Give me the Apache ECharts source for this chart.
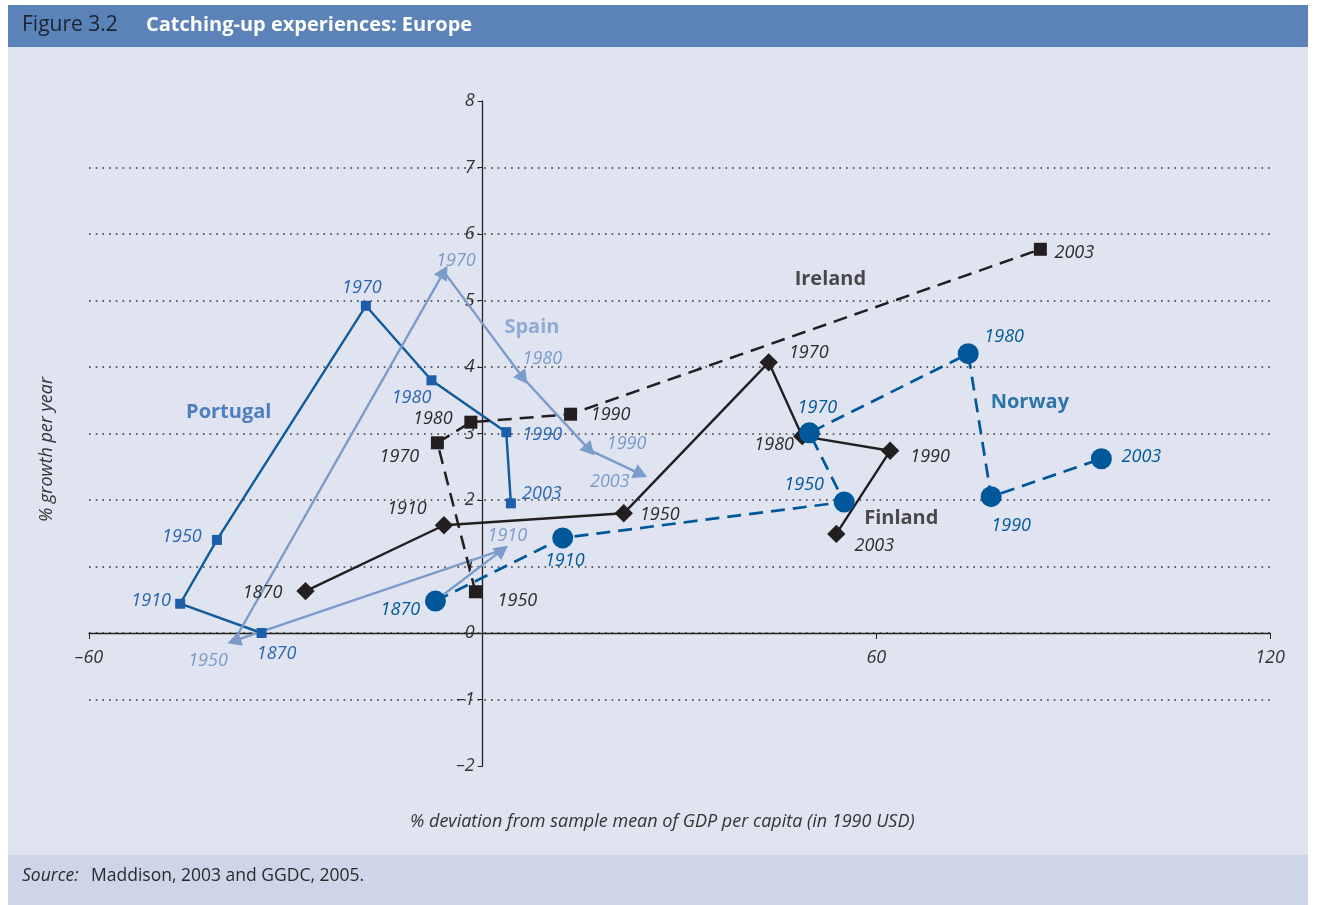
<!DOCTYPE html>
<html>
<head>
<meta charset="utf-8">
<script src="https://cdn.jsdelivr.net/npm/echarts@6/dist/echarts.min.js"></script>
<style>
  html, body { margin: 0; padding: 0; background: #fff; }
  #chart { width: 1322px; height: 905px; }
</style>
</head>
<body>
<div id="chart"></div>
<script>
// data
var years = ["1870", "1910", "1950", "1970", "1980", "1990", "2003"];
var irelandYears = ["1950", "1970", "1980", "1990", "2003"];

var portugalX = [-33.7, -46.1, -40.5, -17.8, -7.8, 3.6, 4.3];
var portugalY = [0.0, 0.44, 1.40, 4.92, 3.80, 3.02, 1.95];

var spainX = [-7.0, 3.0, -37.9, -5.9, 6.2, 16.3, 24.1];
var spainY = [0.50, 1.25, -0.12, 5.43, 3.83, 2.75, 2.39];

var irelandX = [-1.1, -6.9, -1.8, 13.4, 85.0];
var irelandY = [0.62, 2.86, 3.17, 3.29, 5.77];

var finlandX = [-27.0, -5.9, 21.5, 43.6, 48.7, 62.1, 53.9];
var finlandY = [0.63, 1.62, 1.80, 4.07, 2.96, 2.74, 1.49];

var norwayX = [-7.2, 12.2, 55.1, 49.8, 74.0, 77.5, 94.3];
var norwayY = [0.48, 1.43, 1.97, 3.01, 4.20, 2.05, 2.62];

var countries = ["Portugal", "Spain", "Ireland", "Finland", "Norway"];
var countryX = [-38.7, 7.5, 53.0, 63.8, 83.4];
var countryY = [3.32, 4.6, 5.32, 1.73, 3.47];

// label offsets (pixels) for the year labels
var portugalOff = [[15, 21], [-29, -3], [-35, -3], [-4, -18], [-20, 18], [36, 3], [31, -9]];
var spainOff = [null, [5, -14], [-26, 20], [12, -11], [19, -19], [37, -6], [-31, 8]];
var irelandOff = [[42, 9], [-38, 14], [-38, -3], [40, 1], [34, 4]];
var finlandOff = [[-43, 2], [-37, -16], [36, 2], [40, -9], [-28, 9], [40, 6], [38, 12]];
var norwayOff = [[-35, 9], [2, 23], [-40, -17], [8, -25], [36, -17], [20, 29], [40, -2]];

var FONT = "Open Sans";
var DARK = "#231f20";
var PT = "#0f5b9c", PT_MK = "#1c5eaa", PT_TX = "#2a64b2";
var SP = "#7b9ccb";
var NO = "#00589a";

function pts(xs, ys, yrs, offs) {
  return xs.map(function (x, i) {
    var item = { value: [x, ys[i]], name: yrs[i] };
    if (offs[i]) {
      item.label = { show: true, offset: offs[i] };
    } else {
      item.label = { show: false };
    }
    return item;
  });
}

function yearLabel(color) {
  return {
    show: true,
    position: "inside",
    formatter: "{b}",
    color: color,
    fontFamily: FONT,
    fontStyle: "italic",
    fontSize: 18
  };
}

var chart = echarts.init(document.getElementById("chart"));

var option = {
  animation: false,
  backgroundColor: "#fff",
  textStyle: { fontFamily: FONT },
  graphic: [
    { type: "rect", z: -10, shape: { x: 8, y: 5, width: 1300, height: 42 }, style: { fill: "#5b83b7" } },
    { type: "rect", z: -10, shape: { x: 8, y: 47, width: 1300, height: 808 }, style: { fill: "#dfe4f0" } },
    { type: "rect", z: -10, shape: { x: 8, y: 855, width: 1300, height: 50 }, style: { fill: "#cdd6e8" } },
    { type: "text", left: 22, top: 15, style: { text: "Figure 3.2", fill: "#1b2330", font: "21px " + FONT } },
    { type: "text", left: 146, top: 15, style: { text: "Catching-up experiences: Europe", fill: "#fff", font: "bold 20px " + FONT } },
    { type: "text", left: 22, top: 867, style: { text: "Source:", fill: "#2a2a2a", font: "italic 17.5px " + FONT } },
    { type: "text", left: 91, top: 867, style: { text: "Maddison, 2003 and GGDC, 2005.", fill: "#2a2a2a", font: "17.5px " + FONT } },
    { type: "text", left: 410, top: 813, style: { text: "% deviation from sample mean of GDP per capita (in 1990 USD)", fill: "#333", font: "italic 18px " + FONT } },
    { type: "text", x: 38, y: 522, rotation: Math.PI / 2, style: { text: "% growth per year", fill: "#333", font: "italic 18px " + FONT } }
  ],
  grid: { left: 89, right: 52, top: 101, bottom: 139 },
  xAxis: {
    type: "value",
    min: -60,
    max: 120,
    interval: 60,
    position: "bottom",
    offset: -133,
    axisLine: { onZero: false, lineStyle: { color: "#222", width: 1.3 } },
    axisTick: { show: true, inside: false, length: 6, lineStyle: { color: "#222" } },
    axisLabel: {
      color: "#333",
      fontStyle: "italic",
      fontSize: 18,
      margin: 16,
      formatter: function (v) {
        if (v === 0) return "";
        return v < 0 ? "\u2013" + Math.abs(v) : String(v);
      }
    },
    splitLine: { show: false }
  },
  yAxis: {
    type: "value",
    min: -2,
    max: 8,
    interval: 1,
    position: "left",
    offset: -393.7,
    axisLine: { onZero: false, lineStyle: { color: "#222", width: 1.3 } },
    axisTick: { show: true, inside: false, length: 5, lineStyle: { color: "#222" } },
    axisLabel: {
      color: "#333",
      fontStyle: "italic",
      fontSize: 18,
      margin: 8,
      formatter: function (v) {
        return v < 0 ? "\u2013" + Math.abs(v) : String(v);
      }
    },
    splitLine: {
      show: true,
      lineStyle: {
        color: ["transparent", "#333", "#333", "#333", "#333", "#333", "#333", "#333", "#333", "#333", "transparent"],
        type: [1.6, 5.1],
        width: 1.6
      }
    }
  },
  series: [
    {
      name: "Portugal",
      type: "line",
      z: 3,
      data: pts(portugalX, portugalY, years, portugalOff),
      symbol: "rect",
      symbolSize: 10,
      lineStyle: { color: PT, width: 2.4 },
      itemStyle: { color: PT_MK },
      label: yearLabel(PT_TX)
    },
    {
      name: "Spain",
      type: "line",
      z: 3,
      data: pts(spainX, spainY, years, spainOff),
      symbol: "triangle",
      symbolSize: [15, 14],
      lineStyle: { color: SP, width: 2.4 },
      itemStyle: { color: SP },
      label: yearLabel(SP)
    },
    {
      name: "Ireland",
      type: "line",
      z: 4,
      data: pts(irelandX, irelandY, irelandYears, irelandOff),
      symbol: "rect",
      symbolSize: 13,
      lineStyle: { color: DARK, width: 2.5, type: [14, 8] },
      itemStyle: { color: DARK },
      label: yearLabel("#2b2b2b")
    },
    {
      name: "Finland",
      type: "line",
      z: 4,
      data: pts(finlandX, finlandY, years, finlandOff),
      symbol: "rect",
      symbolSize: 13,
      symbolRotate: 45,
      lineStyle: { color: DARK, width: 2.4 },
      itemStyle: { color: DARK },
      label: yearLabel("#2b2b2b")
    },
    {
      name: "Norway",
      type: "line",
      z: 5,
      data: pts(norwayX, norwayY, years, norwayOff),
      symbol: "circle",
      symbolSize: 21,
      lineStyle: { color: NO, width: 2.7, type: [14, 8] },
      itemStyle: { color: NO },
      label: yearLabel(NO)
    },
    {
      name: "names",
      type: "scatter",
      z: 6,
      symbolSize: 0,
      data: countries.map(function (c, i) {
        var col = [PT_TX, SP, DARK, DARK, NO][i];
        return { value: [countryX[i], countryY[i]], name: c, label: { color: col } };
      }),
      label: {
        show: true,
        position: "inside",
        formatter: "{b}",
        fontFamily: FONT,
        fontWeight: "bold",
        fontSize: 20
      }
    }
  ]
};

chart.setOption(option);

// turn Spain's triangles into arrowheads along the path
var spainData = option.series[1].data;
var px = spainX.map(function (x, i) { return chart.convertToPixel({ gridIndex: 0 }, [x, spainY[i]]); });
spainData.forEach(function (item, i) {
  var a = i > 0 ? px[i - 1] : px[i];
  var b = i > 0 ? px[i] : px[i + 1];
  var ang = Math.atan2(-(b[1] - a[1]), b[0] - a[0]) * 180 / Math.PI;
  item.symbolRotate = ang - 90;
});
chart.setOption({ series: [{}, { data: spainData }] });
</script>
</body>
</html>
